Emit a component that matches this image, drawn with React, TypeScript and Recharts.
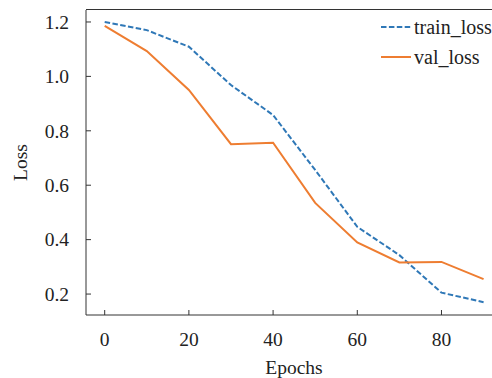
import React from "react";
import { LineChart, Line, XAxis, YAxis } from "recharts";

const epochs = [0, 10, 20, 30, 40, 50, 60, 70, 80, 90];
const trainLoss = [1.2, 1.17, 1.109, 0.968, 0.858, 0.656, 0.447, 0.343, 0.205, 0.17];
const valLoss = [1.186, 1.093, 0.95, 0.751, 0.756, 0.535, 0.39, 0.316, 0.318, 0.255];
const xTicks = [0, 20, 40, 60, 80];
const yTicks = [0.2, 0.4, 0.6, 0.8, 1.0, 1.2];

const BLUE = "#2f78b7";
const ORANGE = "#ee7d31";
const AXIS = "#333333";
const FONT = "Liberation Serif, DejaVu Serif, serif";
const Y_MIN = 0.123;
const Y_MAX = 1.244;

const data = epochs.map((e, i) => ({ epoch: e, train_loss: trainLoss[i], val_loss: valLoss[i] }));

const XTick = (props: any) => {
  const { x, y, payload } = props;
  return (
    <g>
      <line x1={x} x2={x} y1={315} y2={310} stroke={AXIS} strokeWidth={1} />
      <text x={x} y={y} dy="0.71em" textAnchor="middle" fill="#222" fontSize={19.5} style={{ fontFamily: FONT }}>
        {payload.value}
      </text>
    </g>
  );
};

const YTick = (props: any) => {
  const { x, y, payload } = props;
  return (
    <g>
      <line x1={86} x2={91} y1={y} y2={y} stroke={AXIS} strokeWidth={1} />
      <text x={x} y={y} dy="0.35em" textAnchor="end" fill="#222" fontSize={19.5} style={{ fontFamily: FONT }}>
        {payload.value.toFixed(1)}
      </text>
    </g>
  );
};

const XLabel = (props: any) => {
  const vb = props.viewBox || { x: 86, width: 406 };
  return (
    <text x={vb.x + vb.width / 2 + 5} y={374} textAnchor="middle" fill="#222" fontSize={19.5} style={{ fontFamily: FONT }}>
      Epochs
    </text>
  );
};

const YLabel = () => (
  <text
    x={26.5}
    y={162.5}
    transform="rotate(-90, 26.5, 162.5)"
    textAnchor="middle"
    fill="#222"
    fontSize={19.5}
    style={{ fontFamily: FONT }}
  >
    Loss
  </text>
);

const legendItems = [
  { name: "train_loss", color: BLUE, dash: "5.5 2.4" },
  { name: "val_loss", color: ORANGE, dash: undefined },
];

export default function App() {
  return (
    <div style={{ position: "absolute", top: 0, left: 0, width: 492, height: 378, overflow: "hidden", background: "#fff" }}>
      <LineChart width={492} height={378} data={data} margin={{ top: 10, right: 0, bottom: 0, left: 0 }}>
        <XAxis
          dataKey="epoch"
          type="number"
          domain={[-4.44, 92]}
          ticks={xTicks}
          tick={<XTick />}
          tickLine={false}
          tickSize={0}
          tickMargin={17}
          height={63}
          allowDataOverflow
          axisLine={{ stroke: AXIS, strokeWidth: 1 }}
          label={{ content: <XLabel /> }}
        />
        <YAxis
          type="number"
          domain={[Y_MIN, Y_MAX]}
          ticks={yTicks}
          tick={<YTick />}
          tickLine={false}
          tickSize={0}
          tickMargin={17}
          width={86}
          allowDataOverflow
          axisLine={{ stroke: AXIS, strokeWidth: 1 }}
          label={{ content: <YLabel /> }}
        />
        <Line
          dataKey="train_loss"
          stroke={BLUE}
          strokeWidth={2}
          strokeDasharray="5.5 2.4"
          dot={false}
          isAnimationActive={false}
        />
        <Line dataKey="val_loss" stroke={ORANGE} strokeWidth={2} dot={false} isAnimationActive={false} />
      </LineChart>
      {/* top frame of the plot area */}
      <div
        style={{
          position: "absolute",
          left: 86,
          top: 9,
          width: 406,
          height: 0,
          borderTop: `1.5px solid ${AXIS}`,
        }}
      />
      <div
        style={{
          position: "absolute",
          left: 381,
          top: 12,
          fontFamily: FONT,
          fontSize: 20,
          color: "#222",
          lineHeight: "30px",
        }}
      >
        {legendItems.map((s) => (
          <div key={s.name} style={{ display: "flex", alignItems: "center", whiteSpace: "nowrap" }}>
            <svg width={30} height={10} style={{ marginRight: 3 }}>
              <line x1={0} x2={30} y1={5} y2={5} stroke={s.color} strokeWidth={2} strokeDasharray={s.dash} />
            </svg>
            <span>{s.name}</span>
          </div>
        ))}
      </div>
    </div>
  );
}
